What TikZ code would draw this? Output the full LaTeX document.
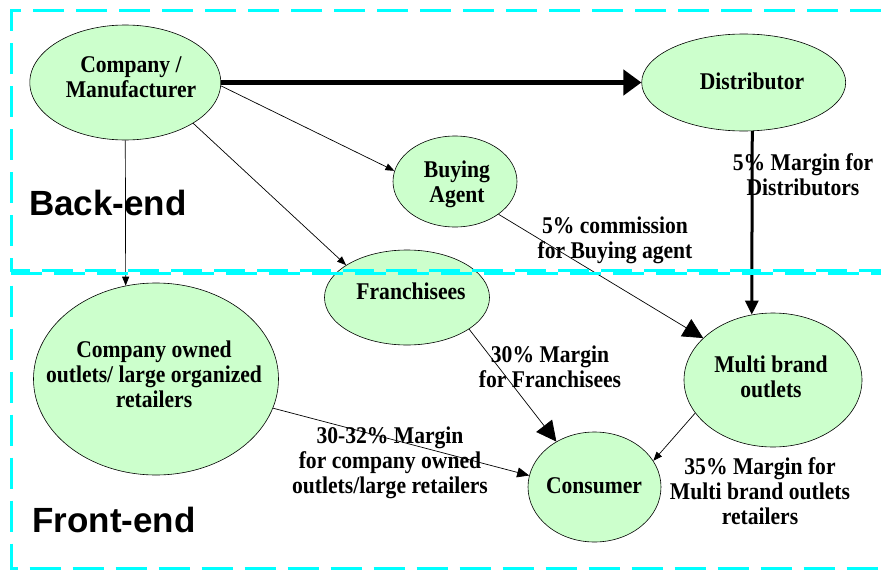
\documentclass[tikz,border=0pt]{standalone}
\usepackage{fontspec}
\setmainfont{Liberation Serif}
\newfontfamily\boxfont[FakeStretch=0.9]{Liberation Serif}
\newfontfamily\sidefont{Liberation Sans}
\usetikzlibrary{shapes.geometric}
\usetikzlibrary{arrows.meta}
\definecolor{ovalgreen}{RGB}{204,255,204}
\definecolor{framecyan}{RGB}{0,255,255}

\begin{document}
\begin{tikzpicture}[x=1pt,y=-1pt,
    oval/.style={ellipse,draw,fill=ovalgreen,inner sep=0pt,line width=0.6pt},
    txt/.style={font=\boxfont\fontsize{24}{25}\selectfont\bfseries,align=center,inner sep=0pt},
    endtxt/.style={font=\sidefont\fontsize{35}{40}\selectfont\bfseries,inner sep=0pt},
    link/.style={line width=0.7pt,-{Triangle[length=9pt,width=7pt]}},
    biglink/.style={line width=0.7pt,-{Triangle[length=20pt,width=20pt]}},
    frame/.style={framecyan,line width=3pt,dash pattern=on 31pt off 12pt}]
  \useasboundingbox (0,0) rectangle (881,570);
  \clip (0,0) rectangle (881,570);
  % ovals
  \node[oval,minimum width=191pt,minimum height=115pt] (comp) at (125.3,82.5) {};
  \node[oval,minimum width=204pt,minimum height=97pt] (dist) at (743.7,82.5) {};
  \node[oval,minimum width=124pt,minimum height=91pt] (buy) at (455,181.5) {};
  \node[oval,minimum width=165pt,minimum height=95pt] (fr) at (407,297.5) {};
  \node[oval,minimum width=245pt,minimum height=192pt] (co) at (156,379) {};
  \node[oval,minimum width=178pt,minimum height=134pt] (multi) at (773,380) {};
  \node[oval,minimum width=133pt,minimum height=110pt] (cons) at (594.5,487) {};
  % names in the ovals
  \node[txt] (compT) at (131,77) {Company /\\Manufacturer};
  \node[txt] (distT) at (752,81) {Distributor};
  \node[txt] (buyT) at (457,184) {Buying\\Agent};
  \node[txt] (frT) at (411,291) {Franchisees};
  \node[txt] (coT) at (154,374) {Company owned\\outlets/ large organized\\retailers};
  \node[txt] (multiT) at (771,377) {Multi brand\\outlets};
  \node[txt] (consT) at (594,486) {Consumer};
  % links
  \draw[line width=5pt,-{Triangle[length=18pt,width=25pt]}] (comp) -- (dist);
  \draw[line width=3pt,-{Triangle[length=14pt,width=13pt]}] (dist.-80) -- (multi.108);
  \draw[link] (comp.-2) -- (buy.170);
  \draw[link] (comp.-31) -- (fr.152);
  \draw[link] (comp.south) -- (co.108);
  \draw[biglink] (buy.-37) -- (multi.149);
  \draw[biglink] (fr.-27) -- (cons.130);
  \draw[line width=0.7pt,-{Triangle[length=12pt,width=10pt]}] (co.-14) -- (cons.170);
  \draw[link] (multi.-157) -- (cons.24);
  % margins
  \node[txt] (distM) at (803,175) {5\% Margin for\\Distributors};
  \node[txt] (buyM) at (615,240) {5\% commission\\for Buying agent};
  \node[txt] (frM) at (550,367) {30\% Margin\\for Franchisees};
  \node[txt] (coM) at (390,463) {30-32\% Margin\\for company owned\\outlets/large retailers};
  \node[txt] (multiM) at (760,491) {35\% Margin for\\Multi brand outlets\\retailers};
  \node[endtxt] (back) at (108,203) {Back-end};
  \node[endtxt] (front) at (114,520) {Front-end};
  % dashed frames
  \draw[frame] (881,10) -- (11,10) -- (11,270) -- (881,270);
  \draw[frame,dash phase=21pt] (881,273.5) -- (11,273.5) -- (11,568) -- (881,568);
\end{tikzpicture}
\end{document}
